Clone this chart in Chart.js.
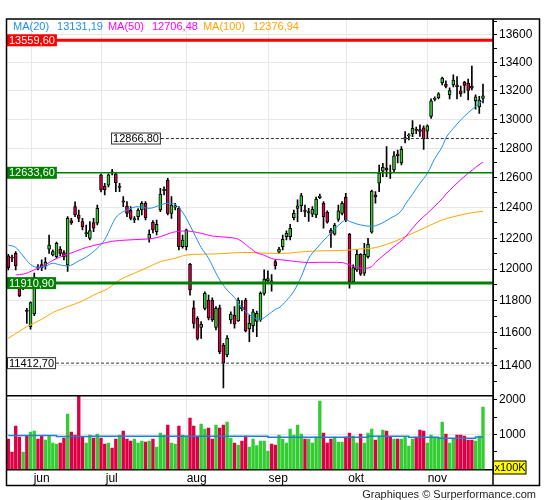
<!DOCTYPE html>
<html>
<head>
<meta charset="utf-8">
<script src="https://cdn.jsdelivr.net/npm/chart.js@4.4.0/dist/chart.umd.min.js"></script>
<style>
  html, body { margin: 0; padding: 0; background: #fff; }
  #wrap { width: 545px; height: 500px; }
</style>
</head>
<body>
<div id="wrap"><canvas id="myChart" width="545" height="500"></canvas></div>
<script>
// daily candles, one per trading day (index = day number)
const opens = [12085,12078,12102,11878,11885,11740,11637,11716,12015,12030,
  12020,12128,12092,12080,12128,12106,12027,12315,12407,12352,
  12308,12228,12199,12302,12298,12619,12545,12551,12640,12626,
  12536,12445,12411,12385,12320,12341,12385,12430,12199,12304,
  12243,12385,12514,12585,12363,12403,12396,12145,12145,12031,
  11755,11689,11632,11751,11804,11804,11632,11755,11524,11463,
  11679,11707,11673,11760,11804,11623,11644,11669,11679,11846,
  11925,11925,12048,12109,12145,12210,12210,12335,12396,12413,
  12385,12365,12357,12352,12467,12430,12370,12252,12226,12323,
  12363,12470,12225,11920,11995,12096,11975,12080,12239,12485,
  12563,12645,12665,12638,12653,12760,12700,12862,12884,12899,
  12930,12928,12940,12918,13020,13138,13150,13254,13247,13170,
  13240,13240,13198,13261,13254,13233,13127,13085,13145];
const highs = [12095,12091,12113,11888,11940,11752,11793,11975,12030,12060,
  12075,12221,12125,12175,12145,12120,12341,12330,12440,12385,
  12330,12286,12308,12330,12418,12625,12563,12626,12657,12630,
  12563,12474,12441,12407,12341,12395,12441,12441,12254,12315,
  12319,12529,12540,12596,12474,12430,12407,12221,12260,12038,
  11798,11700,11669,11856,11835,11818,11762,11772,11534,11582,
  11730,11762,11818,11800,11815,11710,11745,11735,11856,11995,
  11990,11965,12060,12140,12221,12248,12290,12385,12452,12496,
  12418,12396,12407,12470,12490,12441,12380,12265,12298,12418,
  12441,12496,12232,12027,12124,12100,12167,12199,12518,12507,
  12686,12698,12811,12686,12777,12788,12811,12914,12901,12990,
  12945,12961,12955,12961,13142,13156,13186,13296,13270,13219,
  13311,13300,13233,13265,13282,13375,13170,13160,13247];
const lows = [11995,12048,11995,11825,11870,11658,11621,11705,11995,11990,
  12000,12102,12085,12070,12085,12060,11985,12290,12341,12308,
  12254,12210,12188,12243,12286,12505,12485,12538,12619,12507,
  12507,12407,12341,12319,12302,12319,12352,12320,12174,12234,
  12221,12374,12485,12352,12330,12385,12124,12135,12124,11835,
  11627,11555,11565,11741,11679,11669,11617,11470,11262,11451,
  11658,11627,11669,11735,11605,11545,11605,11575,11669,11835,
  11920,11860,12000,12100,12124,12188,12188,12319,12308,12374,
  12341,12310,12341,12335,12460,12265,12298,12140,12219,12310,
  12352,12308,11878,11910,11985,11960,11960,12070,12232,12430,
  12507,12607,12607,12596,12640,12700,12686,12837,12857,12880,
  12900,12882,12793,12868,13006,13127,13142,13240,13219,13142,
  13226,13142,13160,13184,13134,13205,13070,13040,13113];
const closes = [12010,12070,12020,11829,11925,11732,11787,11950,12005,12010,
  12045,12155,12113,12167,12102,12080,12330,12300,12352,12330,
  12275,12236,12250,12265,12396,12518,12518,12619,12632,12567,
  12544,12437,12363,12330,12328,12385,12430,12335,12225,12254,
  12291,12490,12522,12363,12418,12411,12145,12188,12254,11867,
  11658,11565,11652,11846,11693,11679,11751,11482,11412,11565,
  11715,11652,11804,11750,11611,11658,11730,11721,11846,11937,
  11940,11915,12022,12130,12193,12232,12265,12363,12413,12480,
  12375,12375,12390,12457,12477,12341,12304,12232,12286,12379,
  12430,12319,11920,12010,12096,11968,12096,12160,12511,12472,
  12630,12671,12655,12630,12748,12750,12793,12873,12892,12937,
  12922,12915,12866,12955,13128,13146,13177,13289,13229,13200,
  13275,13228,13177,13237,13201,13217,13156,13134,13163];
// volume in units of 100K
const volumes = [865,490,1240,923,490,960,1067,1096,865,960,
  837,960,750,721,750,894,1587,1067,980,2096,
  923,750,980,894,1010,894,721,750,605,865,
  980,1096,865,808,865,750,808,779,808,865,
  635,1038,980,1270,750,721,1240,980,950,1471,
  1240,950,1298,1154,1183,865,1270,1183,1270,1356,
  894,750,692,808,950,635,865,673,808,808,
  519,721,692,980,865,750,1154,980,1270,1010,
  865,865,750,923,1960,1038,750,865,923,779,
  779,923,1038,950,750,1010,750,1038,1154,837,
  950,1125,1096,923,865,865,865,923,663,865,
  923,1125,1096,750,980,923,900,1356,1010,750,
  865,980,980,950,837,837,808,950,1788];
const volAvg = [[0,970],[13,940],[22,942],[70,913],[97,942],[108,913],[116,885],[126,923],[128,923]];

// moving averages: [day, value]
const ma20 = [[0,12155],[2,12140],[4,12085],[6,12030],[8,12012],[10,12018],[12,12038],[14,12027],
  [16,12020],[19,12053],[21,12078],[24,12135],[26,12190],[28,12290],[29,12335],[32,12385],
  [35,12407],[38,12396],[41,12418],[43,12430],[45,12423],[47,12370],[48,12330],[50,12235],
  [52,12140],[54,12070],[56,11975],[57,11931],[59,11867],[61,11820],[63,11755],[65,11712],
  [67,11686],[68,11683],[70,11710],[72,11745],[73,11755],[75,11800],[77,11860],[79,11952],
  [81,12068],[83,12130],[86,12210],[88,12260],[90,12305],[91,12319],[92,12310],[94,12293],
  [96,12282],[98,12278],[100,12290],[103,12330],[106,12380],[107,12420],[109,12490],[111,12563],
  [113,12630],[115,12730],[117,12810],[118,12870],[120,12937],[122,12995],[124,13045],[126,13090],
  [128,13131.19]];
const ma50 = [[2,11963],[4,11968],[7,11995],[10,12027],[12,12057],[15,12087],[18,12113],[21,12140],
  [25,12163],[28,12180],[32,12188],[36,12193],[38,12195],[41,12210],[44,12236],[46,12245],
  [48,12247],[52,12232],[55,12214],[59,12206],[62,12193],[65,12140],[67,12105],[69,12090],
  [71,12068],[74,12059],[78,12048],[81,12042],[84,12044],[87,12044],[90,12042],[92,12027],
  [94,12010],[96,12006],[98,12016],[99,12044],[101,12085],[104,12145],[107,12206],[109,12265],
  [111,12319],[113,12363],[115,12410],[117,12460],[118,12490],[120,12540],[122,12587],[124,12630],
  [126,12670],[128,12706.48]];
const ma100 = [[0,11565],[5,11637],[9,11683],[12,11725],[16,11762],[20,11798],[23,11835],[27,11878],
  [30,11931],[34,11974],[38,12016],[41,12048],[45,12070],[48,12091],[52,12096],[56,12098],
  [59,12102],[63,12107],[66,12107],[70,12102],[74,12102],[80,12113],[83,12117],[87,12119],
  [91,12121],[95,12130],[98,12135],[100,12145],[104,12177],[108,12221],[113,12276],[117,12319],
  [122,12352],[125,12367],[128,12376.94]];

const monthLabels = ['jun', 'jul', 'aug', 'sep', 'okt', 'nov'];
const monthTicks = [6.3, 25.2, 48.1, 70.1, 91.1, 113.0];
const priceTicks = [11300,11400,11500,11600,11700,11800,11900,12000,12100,12200,12300,12400,
  12500,12600,12700,12800,12900,13000,13100,13200,13300,13400,13500,13600,13700];
const volTicks = [500, 1000, 1500, 2000];
const levels = [13559.6, 12866.8, 12633.6, 11910.9, 11412.7];

const GREEN = '#33cc33';
const RED = '#dd0044';
const FONT = '"Liberation Sans", Arial, sans-serif';

const levelStyle = [
  { color: '#ff0000', width: 3, box: '#ff0000' },
  { color: '#333', width: 1, dash: true, at: 27.7 },
  { color: '#008000', width: 1.5, box: '#008000' },
  { color: '#008000', width: 3, box: '#008000' },
  { color: '#333', width: 1, dash: true }
];

function fmt(v) {
  return v.toFixed(2).replace('.', ',');
}

const days = closes.map((c, i) => i);
const upDown = days.map(i => closes[i] >= opens[i] ? GREEN : RED);

const decor = {
  id: 'decor',
  beforeDraw(chart) {
    const c = chart.ctx;
    c.save();
    c.fillStyle = '#fff';
    c.fillRect(0, 0, chart.width, chart.height);
    c.restore();
  },
  afterDatasetsDraw(chart) {
    const c = chart.ctx, a = chart.chartArea, ys = chart.scales.y, xs = chart.scales.x;
    c.save();
    c.beginPath();
    c.rect(a.left, ys.top, a.right - a.left, ys.bottom - ys.top);
    c.clip();
    c.font = '11px ' + FONT;
    levels.forEach((v, k) => {
      const st = levelStyle[k];
      const y = ys.getPixelForValue(v);
      const bx = st.at != null ? xs.getPixelForValue(st.at) : a.left;
      const txt = fmt(v);
      const bw = c.measureText(txt).width + 4;
      const bh = 12;
      c.beginPath();
      c.lineWidth = st.width;
      c.strokeStyle = st.color;
      c.setLineDash(st.dash ? [3, 2] : []);
      c.moveTo(st.dash ? bx + bw : a.left, y);
      c.lineTo(a.right, y);
      c.stroke();
      c.setLineDash([]);
      c.fillStyle = st.box || '#fff';
      c.fillRect(bx, y - bh / 2, bw, bh);
      if (!st.box) {
        c.lineWidth = 1;
        c.strokeStyle = '#333';
        c.strokeRect(bx + 0.5, y - bh / 2 + 0.5, bw - 1, bh - 1);
      }
      c.fillStyle = st.box ? '#fff' : '#000';
      c.textBaseline = 'middle';
      c.textAlign = 'left';
      c.fillText(txt, bx + 2, y + 0.5);
    });
    c.restore();
  },
  afterDraw(chart) {
    const c = chart.ctx, a = chart.chartArea, yv = chart.scales.yv;
    c.save();
    c.strokeStyle = '#000';
    // pane separator
    c.lineWidth = 1.5;
    c.beginPath();
    c.moveTo(a.left, yv.top);
    c.lineTo(a.right, yv.top);
    c.stroke();
    // frame
    c.lineWidth = 1.5;
    c.strokeRect(6.5, 19, 533, 466.5);
    c.beginPath();
    c.moveTo(a.right, 19);
    c.lineTo(a.right, 485.5);
    c.stroke();
    // legend
    c.font = '11px ' + FONT;
    c.textBaseline = 'middle';
    c.textAlign = 'left';
    let x = 13;
    [['MA(20)', ma20, '#1f8ff0'], ['MA(50)', ma50, '#ff00ff'], ['MA(100)', ma100, '#ffa500']].forEach(m => {
      c.fillStyle = m[2];
      c.fillText(m[0], x, 27);
      x += c.measureText(m[0]).width + 8;
      const val = fmt(m[1][m[1].length - 1][1]);
      c.fillText(val, x, 27);
      x += c.measureText(val).width + 5;
    });
    // volume unit
    c.fillStyle = '#ffff00';
    c.fillRect(493, 460.5, 33, 13.5);
    c.lineWidth = 1;
    c.strokeRect(493.5, 461, 32.5, 13);
    c.fillStyle = '#000';
    c.fillText('x100K', 494.5, 468);
    // footer
    c.fillStyle = '#222';
    c.textAlign = 'right';
    c.fillText('Graphiques \u00a9 Surperformance.com', 536, 495);
    c.restore();
  }
};

const ctx = document.getElementById('myChart');
const gridColor = g => (g.tick && g.tick.value % 200 === 0) ? '#e8e8e8' : 'rgba(0,0,0,0)';

new Chart(ctx, {
  data: {
    datasets: [
      { type: 'line', label: 'MA20', data: ma20.map(p => ({ x: p[0], y: p[1] })), yAxisID: 'y',
        borderColor: '#1f8ff0', borderWidth: 1, pointRadius: 0, cubicInterpolationMode: 'monotone', order: 1 },
      { type: 'line', label: 'MA50', data: ma50.map(p => ({ x: p[0], y: p[1] })), yAxisID: 'y',
        borderColor: '#ff00ff', borderWidth: 1, pointRadius: 0, cubicInterpolationMode: 'monotone', order: 1 },
      { type: 'line', label: 'MA100', data: ma100.map(p => ({ x: p[0], y: p[1] })), yAxisID: 'y',
        borderColor: '#ffa500', borderWidth: 1, pointRadius: 0, cubicInterpolationMode: 'monotone', order: 1 },
      { type: 'bar', label: 'body', data: days.map(i => ({ x: i, y: [opens[i], closes[i]] })), yAxisID: 'y',
        backgroundColor: upDown, borderColor: '#000', borderWidth: 1, borderSkipped: false,
        barThickness: 3, grouped: false, order: 2 },
      { type: 'bar', label: 'wick', data: days.map(i => ({ x: i, y: [lows[i], highs[i]] })), yAxisID: 'y',
        backgroundColor: '#000', barThickness: 1, grouped: false, order: 3 },
      { type: 'line', label: 'volAvg', data: volAvg.map(p => ({ x: p[0], y: p[1] })), yAxisID: 'yv',
        borderColor: '#1c7fd8', borderWidth: 1.5, pointRadius: 0, stepped: true, order: 4 },
      { type: 'bar', label: 'volume', data: days.map(i => ({ x: i, y: volumes[i] })), yAxisID: 'yv',
        backgroundColor: upDown, barThickness: 2.7, grouped: false, order: 5 }
    ]
  },
  options: {
    responsive: false,
    animation: false,
    layout: { padding: { left: 7, right: 6, top: 19.5, bottom: 15 } },
    plugins: { legend: { display: false }, tooltip: { enabled: false } },
    scales: {
      x: {
        type: 'linear', min: -0.35, max: 130.7, offset: false,
        afterBuildTicks: s => { s.ticks = monthTicks.map(v => ({ value: v })); },
        afterFit: s => { s.height = 15; },
        ticks: { callback: (v, i) => monthLabels[i], autoSkip: false, maxRotation: 0,
          labelOffset: 10, padding: 1, color: '#000', font: { family: FONT, size: 12 } },
        grid: { color: '#e8e8e8', drawTicks: false, offset: false },
        border: { color: '#000', width: 1.5 }
      },
      y: {
        type: 'logarithmic', position: 'right', stack: 'panes', stackWeight: 376.2,
        min: 11216, max: 13711,
        afterBuildTicks: s => { s.ticks = priceTicks.map(v => ({ value: v })); },
        afterFit: s => { s.width = 46; },
        ticks: { callback: v => v % 200 === 0 ? String(v) : '', autoSkip: false, padding: 2,
          color: '#000', font: { family: FONT, size: 12 } },
        grid: { color: gridColor, tickColor: '#000', tickLength: 4 },
        border: { color: '#000' }
      },
      yv: {
        type: 'linear', position: 'right', stack: 'panes', stackWeight: 74.3,
        min: -30, max: 2117,
        afterBuildTicks: s => { s.ticks = volTicks.map(v => ({ value: v })); },
        afterFit: s => { s.width = 46; },
        ticks: { callback: v => v % 1000 === 0 ? String(v) : '', autoSkip: false, padding: 2,
          color: '#000', font: { family: FONT, size: 12 } },
        grid: { color: gridColor, tickColor: '#000', tickLength: 4 },
        border: { color: '#000' }
      }
    }
  },
  plugins: [decor]
});
</script>
</body>
</html>
